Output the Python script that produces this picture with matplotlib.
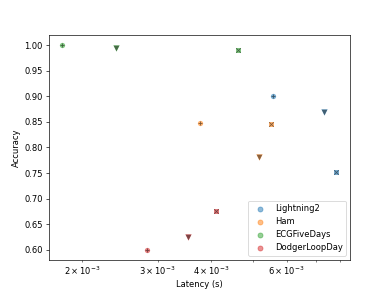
import numpy as np
import matplotlib
matplotlib.use("Agg")
import matplotlib.pyplot as plt

datasets = ["Lightning2", "Ham", "ECGFiveDays", "DodgerLoopDay"]
colors = ["tab:blue", "tab:orange", "tab:green", "tab:red"]

# har bir dataset uchun uchta model: P (plus), v (uchburchak), x
latency_p = [5.57e-3, 3.77e-3, 1.80e-3, 2.84e-3]
acc_p = [0.901, 0.847, 1.000, 0.600]

latency_v = [7.33e-3, 5.16e-3, 2.40e-3, 3.54e-3]
acc_v = [0.869, 0.781, 0.995, 0.625]

latency_x = [7.83e-3, 5.51e-3, 4.63e-3, 4.11e-3]
acc_x = [0.752, 0.845, 0.990, 0.675]

fig, ax = plt.subplots(figsize=(389 / 60, 292 / 60), dpi=60)

groups = [
    (latency_p, acc_p, "o", "+", 40),
    (latency_v, acc_v, "v", "v", 60),
    (latency_x, acc_x, "s", "x", 36),
]
for lat, acc, bg, fg, size in groups:
    for i in range(len(datasets)):
        ax.scatter(lat[i], acc[i], marker=bg, color=colors[i], alpha=0.6, s=size, linewidths=0)
        if fg == "v":
            ax.scatter(lat[i], acc[i], marker=fg, color="black", alpha=0.45, s=size * 0.75, linewidths=0)
        else:
            ax.scatter(lat[i], acc[i], marker=fg, color="black", alpha=0.5, s=size * 0.8, linewidths=1)

for name, c in zip(datasets, colors):
    ax.scatter([], [], marker="o", color=c, alpha=0.5, label=name)

ax.set_xscale("log")
ax.set_xlabel("Latency (s)")
ax.set_ylabel("Accuracy")
ax.legend(loc="lower right")

plt.savefig("out.png", dpi=60)
